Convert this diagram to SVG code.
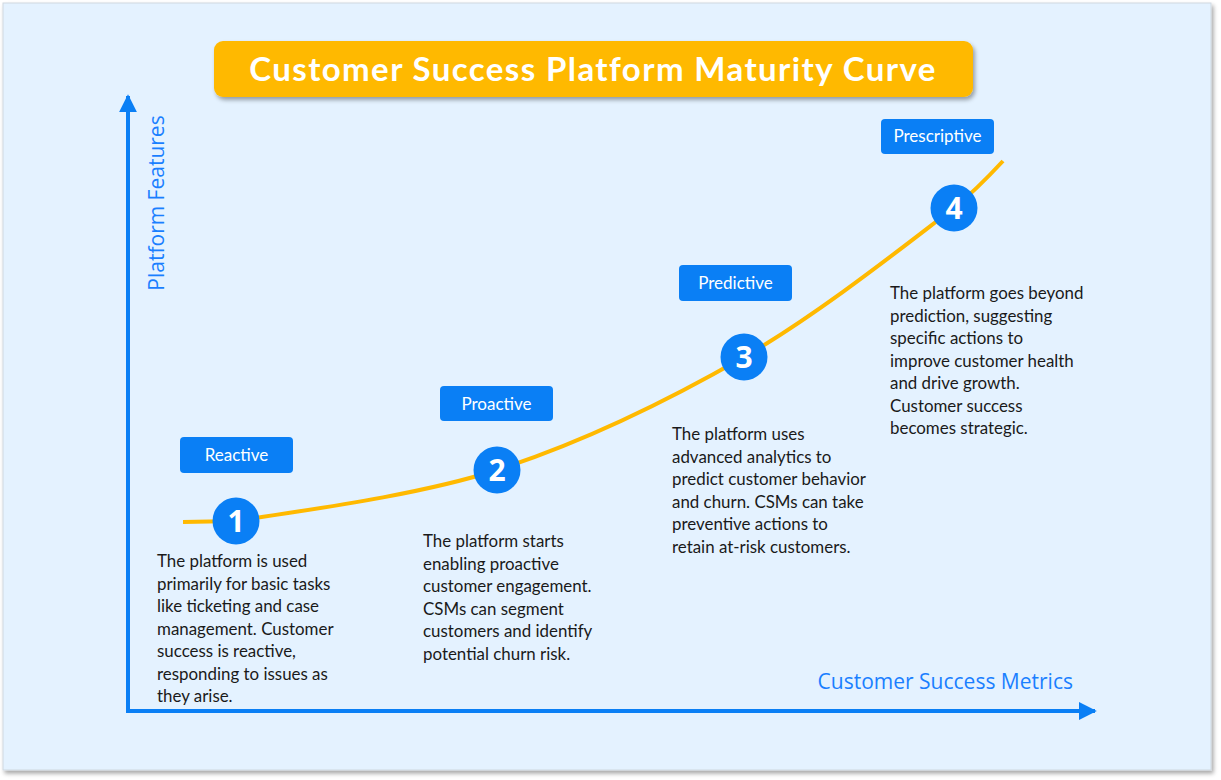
<svg xmlns="http://www.w3.org/2000/svg" width="1221" height="780" viewBox="0 0 1221 780">
<style>
.lbl{fill:#0A7FF5}
.lbltxt{font-family:Lato,"Open Sans",sans-serif;font-size:17px;fill:#fff;text-anchor:middle}
.num{font-family:"Open Sans",Lato,sans-serif;font-weight:bold;font-size:30px;fill:#fff;text-anchor:middle}
.circ{fill:#0A7FF5}
.body{font-family:Lato,"Open Sans",sans-serif;font-size:16.9px;fill:#1a1a1a}
.axis{font-family:"Open Sans",Lato,sans-serif;font-size:21px;fill:#1A7FFF}
</style>
<defs>
<filter id="sh" x="-5%" y="-5%" width="110%" height="120%">
<feDropShadow dx="2" dy="3" stdDeviation="2" flood-color="#000" flood-opacity="0.35"/>
</filter>
<marker id="ah" viewBox="0 0 10 10" refX="9" refY="5" markerWidth="4.5" markerHeight="4.5" orient="auto" markerUnits="strokeWidth">
<path d="M0,0 L10,5 L0,10 Z" fill="#0A7FF5"/>
</marker>
</defs>
<rect width="1221" height="780" fill="#fff"/>
<rect x="3" y="3" width="1208" height="767" fill="#E4F2FF" stroke="#cfd8df" stroke-width="1" filter="url(#sh)"/>
<g id="title">
<rect x="214" y="41" width="759" height="56" rx="9" fill="#FFB900" filter="url(#sh)"/>
<text x="593" y="81" font-family="Lato,'Open Sans',sans-serif" font-weight="bold" font-size="33" fill="#fff" text-anchor="middle" letter-spacing="1.4">Customer Success Platform Maturity Curve</text>
</g>
<g id="connectors">
<line x1="128" y1="711" x2="128" y2="96" stroke="#0A7FF5" stroke-width="4" marker-end="url(#ah)"/>
<line x1="126" y1="711" x2="1095" y2="711" stroke="#0A7FF5" stroke-width="4" marker-end="url(#ah)"/>
<path d="M183,522 L236,521 C288.3,512.3 412.3,497.3 497,470 C581.7,442.7 667.8,400.7 744,357 C820.2,313.3 910.8,240.7 954,208 C975,191 990,175 1003,161" fill="none" stroke="#FFB900" stroke-width="4"/>
</g>
<g id="axis-labels">
<text class="axis" transform="translate(164,203) rotate(-90)" text-anchor="middle">Platform Features</text>
<text class="axis" x="1073" y="689" text-anchor="end">Customer Success Metrics</text>
</g>
<g id="stage1">
<rect class="lbl" x="180" y="437" width="113" height="36" rx="4"/>
<text class="lbltxt" x="236.5" y="461">Reactive</text>
<circle class="circ" cx="236" cy="521" r="23.5"/>
<text class="num" x="236" y="532">1</text>
<text class="body"><tspan x="157" y="567">The platform is used</tspan><tspan x="157" y="589.5">primarily for basic tasks</tspan><tspan x="157" y="612">like ticketing and case</tspan><tspan x="157" y="634.5">management. Customer</tspan><tspan x="157" y="657">success is reactive,</tspan><tspan x="157" y="679.5">responding to issues as</tspan><tspan x="157" y="702">they arise.</tspan></text>
</g>
<g id="stage2">
<rect class="lbl" x="440" y="386" width="113" height="35" rx="4"/>
<text class="lbltxt" x="496.5" y="410">Proactive</text>
<circle class="circ" cx="497" cy="470" r="23.5"/>
<text class="num" x="497" y="481">2</text>
<text class="body"><tspan x="423" y="547">The platform starts</tspan><tspan x="423" y="569.5">enabling proactive</tspan><tspan x="423" y="592">customer engagement.</tspan><tspan x="423" y="614.5">CSMs can segment</tspan><tspan x="423" y="637">customers and identify</tspan><tspan x="423" y="659.5">potential churn risk.</tspan></text>
</g>
<g id="stage3">
<rect class="lbl" x="679" y="265" width="113" height="36" rx="4"/>
<text class="lbltxt" x="735.5" y="289">Predictive</text>
<circle class="circ" cx="744" cy="357" r="23.5"/>
<text class="num" x="744" y="368">3</text>
<text class="body"><tspan x="672" y="440">The platform uses</tspan><tspan x="672" y="462.5">advanced analytics to</tspan><tspan x="672" y="485">predict customer behavior</tspan><tspan x="672" y="507.5">and churn. CSMs can take</tspan><tspan x="672" y="530">preventive actions to</tspan><tspan x="672" y="552.5">retain at-risk customers.</tspan></text>
</g>
<g id="stage4">
<rect class="lbl" x="881" y="119" width="113" height="35" rx="4"/>
<text class="lbltxt" x="937.5" y="142">Prescriptive</text>
<circle class="circ" cx="954" cy="208" r="23.5"/>
<text class="num" x="954" y="219">4</text>
<text class="body"><tspan x="890" y="299">The platform goes beyond</tspan><tspan x="890" y="321.5">prediction, suggesting</tspan><tspan x="890" y="344">specific actions to</tspan><tspan x="890" y="366.5">improve customer health</tspan><tspan x="890" y="389">and drive growth.</tspan><tspan x="890" y="411.5">Customer success</tspan><tspan x="890" y="434">becomes strategic.</tspan></text>
</g>
</svg>
